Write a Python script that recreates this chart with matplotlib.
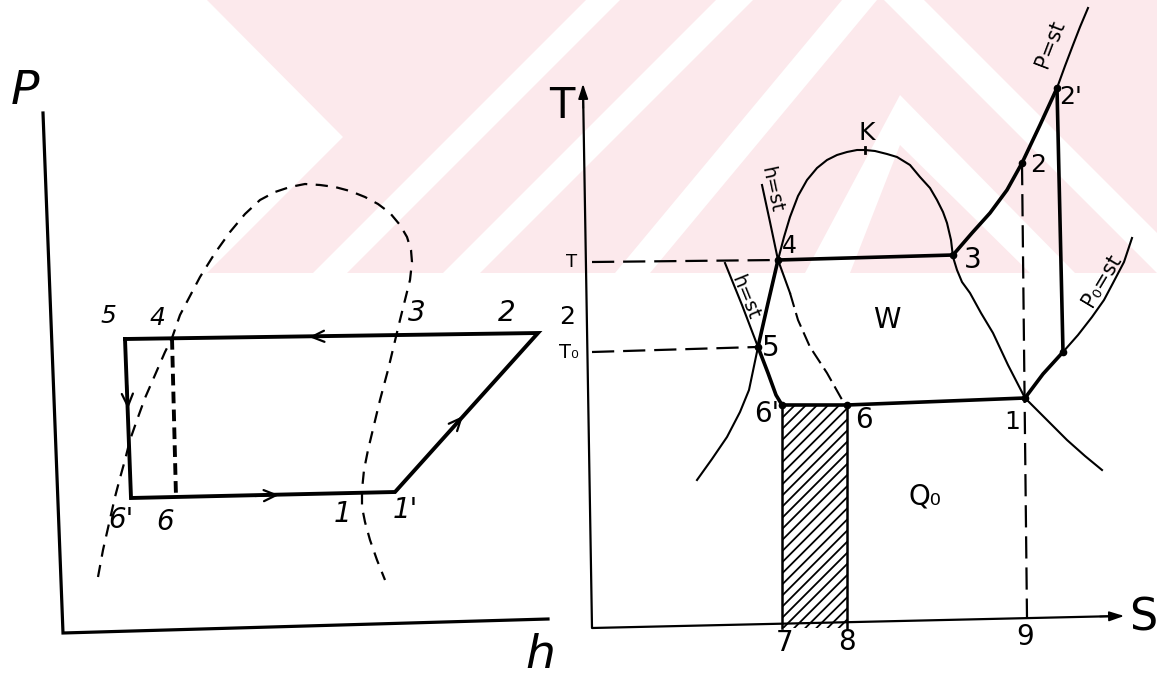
import numpy as np
import matplotlib.pyplot as plt
from matplotlib.patches import Polygon, Rectangle

# sheet units: x to the right, y downward (one unit = one pixel of the sheet)
W, H = 1157, 681

# ---------------- P-h diagram ----------------
ph_axis_x = [43, 63, 548]
ph_axis_y = [113, 633, 619]

# 5 -> 2' -> 1' -> 6' -> 5
ph_cycle_x = [125, 538, 395, 131, 125]
ph_cycle_y = [339, 333, 492, 498, 339]

# dashed 4 - 6 line
ph_iso_x = [172, 176]
ph_iso_y = [338, 497]

# saturation dome (dashed)
ph_dome_x = [98, 103, 108, 115, 120, 125, 130, 137, 145, 155, 165, 172, 180,
             190, 200, 215, 230, 245, 260, 275, 290, 305, 320, 335, 350, 365,
             378, 390, 400, 407, 411, 412, 410, 405, 400, 394, 388, 380, 374,
             368, 364, 362, 362, 365, 370, 377, 385]
ph_dome_y = [577, 550, 528, 497, 478, 460, 440, 420, 398, 375, 352, 338, 315,
             296, 277, 253, 232, 214, 200, 192, 187, 184, 185, 187, 191, 197,
             204, 213, 225, 237, 250, 262, 280, 300, 320, 345, 370, 400, 425,
             450, 470, 490, 507, 522, 540, 560, 580]

# flow arrows (tail, tip)
ph_arrows = [((330, 336), (309, 337)),
             ((255, 496), (279, 495)),
             ((127, 385), (128, 409)),
             ((448, 433), (463, 416))]

ph_labels = [("5", 108, 316, 18), ("4", 157, 318, 18), ("3", 417, 313, 20),
             ("2", 507, 313, 20), ("6'", 121, 520, 20), ("6", 165, 522, 20),
             ("1", 342, 514, 20), ("1'", 405, 510, 20)]

# ---------------- T-s diagram ----------------
ts_axis_x = [583, 592, 1120]
ts_axis_y = [88, 628, 616]

# left saturation line, dome and right saturation line
ts_sat_x = [697, 712, 727, 740, 749, 758, 768, 778, 784, 790, 798, 807, 817,
            827, 837, 847, 857, 865, 875, 887, 897, 910, 920, 930, 937, 943,
            947, 951, 953, 957, 962, 970, 981, 993, 1008, 1025, 1040, 1055,
            1067, 1085, 1102]
ts_sat_y = [480, 459, 437, 412, 390, 347, 303, 260, 237, 217, 196, 180, 168,
            160, 155, 152, 150, 150, 151, 154, 157, 165, 177, 188, 200, 212,
            223, 240, 257, 270, 282, 293, 313, 333, 365, 398, 413, 428, 440,
            456, 470]

# h = const through 4 (solid above, dashed towards 6)
ts_h4_x = [762, 770, 778, 790]
ts_h4_y = [185, 222, 260, 293]
ts_h4d_x = [790, 798, 810, 827, 845]
ts_h4d_y = [293, 320, 347, 373, 405]

# h = const through 5
ts_h5_x = [725, 742, 758]
ts_h5_y = [263, 305, 347]

# heavy cycle lines
ts_45_x = [778, 768, 758]
ts_45_y = [260, 303, 347]
ts_56_x = [758, 768, 776, 782]
ts_56_y = [347, 373, 395, 405]
ts_43_x = [778, 953]
ts_43_y = [260, 255]
ts_32_x = [953, 972, 990, 1007, 1022, 1040, 1057]
ts_32_y = [255, 233, 213, 190, 163, 125, 88]
ts_22_x = [1057, 1063]
ts_22_y = [88, 352]
ts_21_x = [1063, 1043, 1025]
ts_21_y = [352, 374, 398]
ts_16_x = [1025, 847, 782]
ts_16_y = [398, 405, 405]

# isobars beyond the cycle
ts_p_x = [1057, 1065, 1073, 1080, 1088]
ts_p_y = [88, 66, 45, 27, 8]
ts_p0_x = [1063, 1078, 1092, 1104, 1113, 1124, 1132]
ts_p0_y = [352, 335, 317, 300, 283, 262, 238]

# dashed guide lines
ts_T_x, ts_T_y = [592, 778], [262, 260]
ts_T0_x, ts_T0_y = [592, 757], [352, 347]
ts_29_x, ts_29_y = [1022, 1027], [163, 618]

# hatched strip 6'-6-8-7
ts_strip_x = [782, 847]
ts_strip_y = [405, 628]

ts_dots_x = [778, 758, 953, 1025, 1057, 1063, 782, 847, 1022]
ts_dots_y = [260, 347, 255, 398, 88, 352, 405, 405, 163]

ts_labels = [("T", 562, 106, 30), ("T", 572, 262, 13), ("2", 567, 317, 18),
             ("T₀", 569, 352, 14), ("K", 867, 133, 18), ("4", 789, 246, 17),
             ("3", 973, 260, 20), ("2", 1038, 165, 18), ("2'", 1071, 97, 18),
             ("5", 771, 348, 20), ("W", 887, 320, 20), ("6'", 767, 414, 20),
             ("6", 864, 420, 20), ("1", 1012, 422, 18), ("Q₀", 925, 497, 20),
             ("7", 785, 643, 20), ("8", 847, 642, 20), ("9", 1025, 637, 20),
             ("S", 1143, 618, 32)]

ts_rot_labels = [("h=st", 771, 190, 14, -78), ("h=st", 745, 297, 14, -68),
                 ("P=st", 1050, 44, 15, 69), ("P₀=st", 1102, 280, 15, 59)]

# background watermark band: pale base with white stripes cut into it
wm_color = "#fce9ec"
wm_base = [(207, 0), (1157, 0), (1157, 273), (207, 273), (343, 137)]
wm_gaps = [
    [(313, 273), (347, 273), (620, 0), (586, 0)],
    [(443, 273), (480, 273), (753, 0), (716, 0)],
    [(615, 273), (650, 273), (877, 0), (842, 0)],
    [(884, 0), (924, 0), (1157, 233), (1157, 273)],
    [(805, 273), (900, 95), (1075, 273), (1030, 273), (900, 145), (850, 273)],
]

plt.rcParams["hatch.linewidth"] = 1.3

fig = plt.figure(figsize=(W / 100, H / 100), dpi=100)
ax = fig.add_axes([0, 0, 1, 1])
ax.set_xlim(0, W)
ax.set_ylim(H, 0)
ax.axis("off")

ax.add_patch(Polygon(wm_base, closed=True, facecolor=wm_color, edgecolor="none", zorder=0))
for pts in wm_gaps:
    ax.add_patch(Polygon(pts, closed=True, facecolor="white", edgecolor="none", zorder=0.1))

k = "black"

# P-h
ax.plot(ph_axis_x, ph_axis_y, color=k, lw=2.3, solid_joinstyle="miter")
ax.plot(ph_cycle_x, ph_cycle_y, color=k, lw=2.8, solid_joinstyle="miter")
ax.plot(ph_iso_x, ph_iso_y, color=k, lw=2.8, dashes=(3.0, 1.6))
ax.plot(ph_dome_x, ph_dome_y, color=k, lw=1.6, dashes=(5.5, 3.8))
for tail, tip in ph_arrows:
    ax.annotate("", xy=tip, xytext=tail,
                arrowprops=dict(arrowstyle="->,head_length=0.9,head_width=0.4",
                                color=k, lw=1.6, shrinkA=0, shrinkB=0))
ax.text(25, 92, "P", fontsize=34, style="italic", ha="center", va="center")
ax.text(540, 655, "h", fontsize=34, style="italic", ha="center", va="center")
for s, x, y, fs in ph_labels:
    ax.text(x, y, s, fontsize=fs, style="italic", ha="center", va="center")

# T-s
ax.add_patch(Rectangle((ts_strip_x[0], ts_strip_y[0]), ts_strip_x[1] - ts_strip_x[0],
                       ts_strip_y[1] - ts_strip_y[0], facecolor="none",
                       edgecolor=k, lw=0, hatch="///", zorder=1))
ax.plot([ts_strip_x[0]] * 2, ts_strip_y, color=k, lw=1.8)
ax.plot([ts_strip_x[1]] * 2, ts_strip_y, color=k, lw=1.8)

ax.plot(ts_axis_x, ts_axis_y, color=k, lw=1.6)
ax.annotate("", xy=(ts_axis_x[0], ts_axis_y[0] - 4), xytext=(ts_axis_x[0] + 0.3, ts_axis_y[0] + 20),
            arrowprops=dict(arrowstyle="-|>,head_length=0.9,head_width=0.3",
                            color=k, lw=1.2, shrinkA=0, shrinkB=0))
ax.annotate("", xy=(ts_axis_x[2] + 4, ts_axis_y[2]), xytext=(ts_axis_x[2] - 20, ts_axis_y[2] + 0.5),
            arrowprops=dict(arrowstyle="-|>,head_length=0.9,head_width=0.3",
                            color=k, lw=1.2, shrinkA=0, shrinkB=0))

ax.plot(ts_sat_x, ts_sat_y, color=k, lw=1.5)
ax.plot(ts_h4_x, ts_h4_y, color=k, lw=1.5)
ax.plot(ts_h4d_x, ts_h4d_y, color=k, lw=1.5, dashes=(7, 3))
ax.plot(ts_h5_x, ts_h5_y, color=k, lw=1.5)
ax.plot(ts_p_x, ts_p_y, color=k, lw=1.5)
ax.plot(ts_p0_x, ts_p0_y, color=k, lw=1.5)

for xs, ys in [(ts_45_x, ts_45_y), (ts_56_x, ts_56_y), (ts_43_x, ts_43_y),
               (ts_32_x, ts_32_y), (ts_22_x, ts_22_y), (ts_21_x, ts_21_y),
               (ts_16_x, ts_16_y)]:
    ax.plot(xs, ys, color=k, lw=2.6, solid_capstyle="round")

ax.plot(ts_T_x, ts_T_y, color=k, lw=1.6, dashes=(10, 4))
ax.plot(ts_T0_x, ts_T0_y, color=k, lw=1.6, dashes=(10, 4))
ax.plot(ts_29_x, ts_29_y, color=k, lw=1.6, dashes=(10, 4))

ax.plot(ts_dots_x, ts_dots_y, "o", color=k, ms=4.5)
ax.plot([865, 865], [147, 153], color=k, lw=2)

for s, x, y, fs in ts_labels:
    ax.text(x, y, s, fontsize=fs, ha="center", va="center")
for s, x, y, fs, rot in ts_rot_labels:
    ax.text(x, y, s, fontsize=fs, ha="center", va="center", rotation=rot,
            rotation_mode="anchor")

fig.savefig("out.png", dpi=100)
